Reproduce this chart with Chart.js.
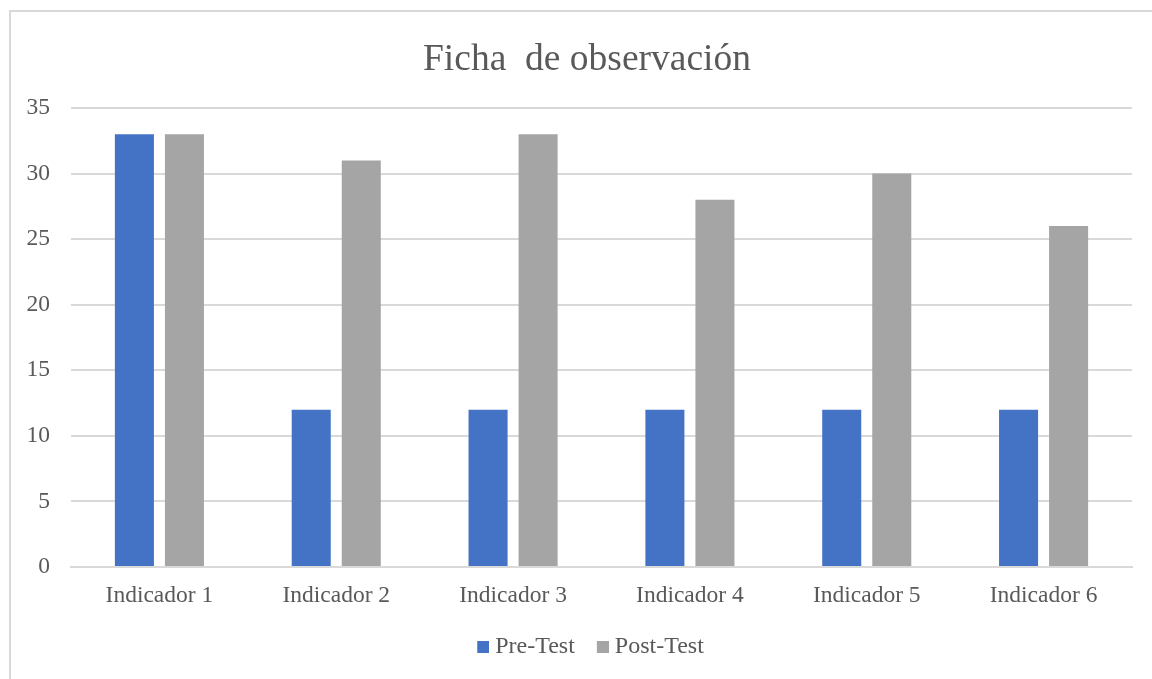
<!DOCTYPE html>
<html>
<head>
<meta charset="utf-8">
<script src="https://cdn.jsdelivr.net/npm/chart.js@4.4.1/dist/chart.umd.min.js"></script>
<style>
html,body{margin:0;padding:0;background:#fff;}
#wrap{position:relative;width:1152px;height:679px;overflow:hidden;}
#frame{position:absolute;left:9px;top:10px;width:1200px;height:700px;border-left:2px solid #D9D9D9;border-top:2px solid #D9D9D9;box-sizing:border-box;pointer-events:none;}
canvas{position:absolute;left:0;top:0;}
</style>
</head>
<body>
<div id="wrap">
<canvas id="c" width="1164" height="679"></canvas>
<div id="frame"></div>
</div>
<script>
const categories = ["Indicador 1","Indicador 2","Indicador 3","Indicador 4","Indicador 5","Indicador 6"];
const preTest = [33,12,12,12,12,12];
const postTest = [33,31,33,28,30,26];
const seriesNames = ["Pre-Test","Post-Test"];
const seriesColors = ["#4472C4","#A5A5A5"];
const chartTitle = "Ficha  de observación";

const FONT = "'Liberation Serif','Times New Roman',serif";
const TXT = "#595959";

function swatch(color){
  const cv = document.createElement('canvas');
  cv.width = 25; cv.height = 12;
  const g = cv.getContext('2d');
  g.fillStyle = color; g.fillRect(13,0,12,12);
  return cv;
}
const swatches = seriesColors.map(swatch);

new Chart(document.getElementById('c'), {
  type: 'bar',
  data: {
    labels: categories,
    datasets: [
      {label: seriesNames[0], data: preTest, backgroundColor: seriesColors[0], categoryPercentage: 0.566, barPercentage: 0.78},
      {label: seriesNames[1], data: postTest, backgroundColor: seriesColors[1], categoryPercentage: 0.566, barPercentage: 0.78}
    ]
  },
  options: {
    responsive: false,
    animation: false,
    layout: {padding: {left: 10, right: 0, top: 11, bottom: 10}},
    plugins: {
      title: {display: true, text: chartTitle, color: TXT, font: {family: FONT, size: 37.5, weight: 'normal'}, padding: {top: 27, bottom: 25}},
      legend: {
        position: 'bottom',
        labels: {
          color: TXT, font: {family: FONT, size: 24}, boxWidth: 13, boxHeight: 12, padding: 15, usePointStyle: true,
          generateLabels: (chart) => {
            const items = Chart.defaults.plugins.legend.labels.generateLabels(chart);
            items.forEach((it, i) => { it.pointStyle = swatches[i]; });
            return items;
          }
        }
      },
      tooltip: {enabled: false}
    },
    scales: {
      x: {
        grid: {display: false, drawTicks: false},
        border: {display: true, color: '#D9D9D9', width: 2},
        ticks: {color: TXT, font: {family: FONT, size: 23.5}, padding: 15, maxRotation: 0},
        afterFit: s => { s.height = 53; }
      },
      y: {
        min: 0, max: 35,
        grid: {color: '#D9D9D9', lineWidth: 2, drawTicks: false},
        border: {display: false},
        ticks: {stepSize: 5, color: TXT, font: {family: FONT, size: 23.5}, padding: 21},
        afterFit: s => { s.width = 61; }
      },
      yr: {
        position: 'right',
        display: true,
        grid: {display: false, drawTicks: false},
        border: {display: false},
        ticks: {display: false},
        afterFit: s => { s.width = 32; }
      }
    }
  }
});
</script>
</body>
</html>
